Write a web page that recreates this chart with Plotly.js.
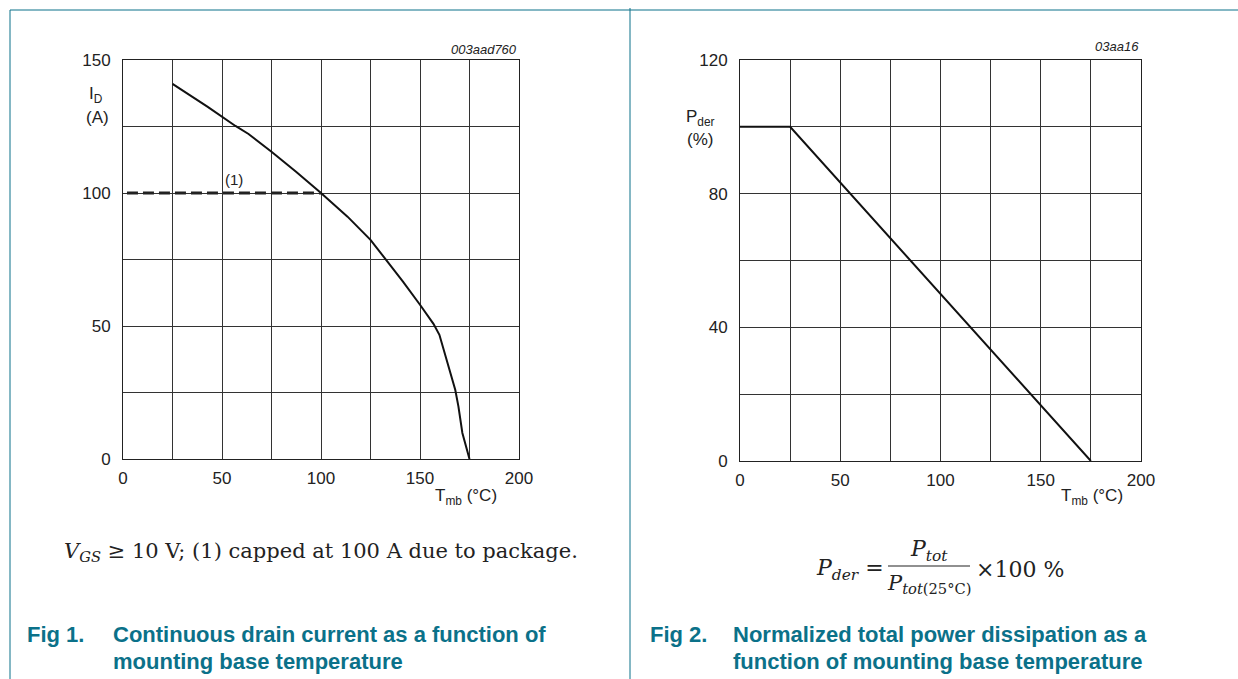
<!DOCTYPE html>
<html>
<head>
<meta charset="utf-8">
<script src="https://cdn.plot.ly/plotly-3.0.1.min.js"></script>
<style>
html,body{margin:0;padding:0;background:#fff;}
#chart{width:1238px;height:679px;}
</style>
</head>
<body>
<div id="chart"></div>
<script>
// ---- Data ----
const tempID = [25, 42.8, 56.8, 63.4, 75, 87.4, 100, 113.4, 125, 132.4, 141.4, 150, 153.4, 156.8, 159.8, 162.4, 165.4, 167.8, 169.4, 171.4, 175];
const currentID = [141, 132.4, 125.2, 122.2, 115.5, 108, 100, 91.1, 82.4, 75.5, 66.7, 58, 54.2, 50.8, 46.7, 39.8, 32.3, 26, 19.8, 9.8, 0];
const capTemp = [2, 100];
const capCurrent = [100, 100];
const tempP = [0, 25, 175];
const pder = [100, 100, 0];

const xTickVals = [0, 25, 50, 75, 100, 125, 150, 175, 200];
const xTickText = ['0', '', '50', '', '100', '', '150', '', '200'];
const y1TickVals = [0, 25, 50, 75, 100, 125, 150];
const y1TickText = ['0', '', '50', '', '100', '', '150'];
const y2TickVals = [0, 20, 40, 60, 80, 100, 120];
const y2TickText = ['0', '', '40', '', '80', '', '120'];

// ---- Layout helpers (pixel -> paper) ----
const W = 1238, H = 679;
const px = x => x / W;
const py = y => 1 - y / H;

const TEAL = '#0b7189';
const SANS = 'Liberation Sans, Arial, sans-serif';
const SERIF = 'DejaVu Serif, Liberation Serif, serif';

const axisCommon = {
  showline: true, mirror: true, linecolor: '#222', linewidth: 1,
  showgrid: true, gridcolor: '#333', gridwidth: 1,
  zeroline: false, ticks: '', fixedrange: true,
  tickfont: {family: SANS, size: 17, color: '#222'}
};

const traces = [
  {x: tempID, y: currentID, xaxis: 'x', yaxis: 'y', mode: 'lines',
   line: {color: '#111', width: 2}, hoverinfo: 'skip'},
  {x: capTemp, y: capCurrent, xaxis: 'x', yaxis: 'y', mode: 'lines',
   line: {color: '#222', width: 3, dash: '11px,5px'}, hoverinfo: 'skip'},
  {x: tempP, y: pder, xaxis: 'x2', yaxis: 'y2', mode: 'lines',
   line: {color: '#111', width: 2}, hoverinfo: 'skip'}
];

function ann(x, y, text, opts) {
  return Object.assign({
    xref: 'paper', yref: 'paper', x: px(x), y: py(y), text: text,
    showarrow: false, xanchor: 'center', yanchor: 'middle',
    font: {family: SANS, size: 17, color: '#222'}
  }, opts || {});
}

const annotations = [
  // Fig 1 labels
  ann(519, 50, '<i>003aad760</i>', {xanchor: 'right', font: {family: SANS, size: 13, color: '#222'}}),
  ann(96, 95, 'I<sub>D</sub>'),
  ann(97, 117, '(A)'),
  ann(466, 497, 'T<sub>mb</sub> (°C)'),
  ann(234, 180, '(1)', {font: {family: SANS, size: 15, color: '#222'}}),
  // Fig 2 labels
  ann(1141, 47, '<i>03aa16</i>', {xanchor: 'right', font: {family: SANS, size: 13, color: '#222'}}),
  ann(701, 118, 'P<sub>der</sub>'),
  ann(700, 140, '(%)'),
  ann(1092, 497, 'T<sub>mb</sub> (°C)'),
  // Notes
  ann(321, 552, '<i>V</i><sub><i>GS</i></sub> ≥ 10 V; (1) capped at 100 A due to package.',
      {font: {family: SERIF, size: 21, color: '#222'}}),
  ann(886, 569, '<i>P</i><sub><i>der</i></sub> =', {xanchor: 'right', font: {family: SERIF, size: 22, color: '#222'}}),
  ann(929, 550, '<i>P</i><sub><i>tot</i></sub>', {font: {family: SERIF, size: 22, color: '#222'}}),
  ann(929, 584, '<i>P</i><sub><i>tot</i>(25°C)</sub>', {font: {family: SERIF, size: 21, color: '#222'}}),
  ann(974, 569, '×100 %', {xanchor: 'left', font: {family: SERIF, size: 22, color: '#222'}}),
  // Captions
  ann(25, 634, '<b>Fig 1.</b>', {xanchor: 'left', font: {family: SANS, size: 22, color: TEAL}}),
  ann(111, 634, '<b>Continuous drain current as a function of</b>', {xanchor: 'left', font: {family: SANS, size: 22, color: TEAL}}),
  ann(111, 661, '<b>mounting base temperature</b>', {xanchor: 'left', font: {family: SANS, size: 22, color: TEAL}}),
  ann(648, 634, '<b>Fig 2.</b>', {xanchor: 'left', font: {family: SANS, size: 22, color: TEAL}}),
  ann(731, 634, '<b>Normalized total power dissipation as a</b>', {xanchor: 'left', font: {family: SANS, size: 22, color: TEAL}}),
  ann(731, 661, '<b>function of mounting base temperature</b>', {xanchor: 'left', font: {family: SANS, size: 22, color: TEAL}})
];

const shapes = [
  {type: 'line', xref: 'paper', yref: 'paper', x0: px(10), x1: 1, y0: py(10), y1: py(10), line: {color: TEAL, width: 1}},
  {type: 'line', xref: 'paper', yref: 'paper', x0: px(10), x1: px(10), y0: py(10), y1: 0, line: {color: TEAL, width: 1}},
  {type: 'line', xref: 'paper', yref: 'paper', x0: px(630), x1: px(630), y0: py(8), y1: 0, line: {color: TEAL, width: 1}},
  // fraction bar of the formula
  {type: 'line', xref: 'paper', yref: 'paper', x0: px(888), x1: px(970), y0: py(566), y1: py(566), line: {color: '#222', width: 1.2}}
];

const layout = {
  width: W, height: H,
  margin: {l: 0, r: 0, t: 0, b: 0},
  paper_bgcolor: '#fff', plot_bgcolor: '#fff',
  showlegend: false,
  xaxis: Object.assign({}, axisCommon, {domain: [px(123), px(519)], range: [0, 200], tickvals: xTickVals, ticktext: xTickText, anchor: 'y', ticklabelstandoff: 4}),
  yaxis: Object.assign({}, axisCommon, {domain: [py(459), py(60)], range: [0, 150], tickvals: y1TickVals, ticktext: y1TickText, anchor: 'x', ticklabelstandoff: 8}),
  xaxis2: Object.assign({}, axisCommon, {domain: [px(740), px(1141)], range: [0, 200], tickvals: xTickVals, ticktext: xTickText, anchor: 'y2', ticklabelstandoff: 4}),
  yaxis2: Object.assign({}, axisCommon, {domain: [py(461), py(60)], range: [0, 120], tickvals: y2TickVals, ticktext: y2TickText, anchor: 'x2', ticklabelstandoff: 8}),
  annotations: annotations,
  shapes: shapes
};

Plotly.newPlot('chart', traces, layout, {displayModeBar: false, staticPlot: true});
</script>
</body>
</html>
